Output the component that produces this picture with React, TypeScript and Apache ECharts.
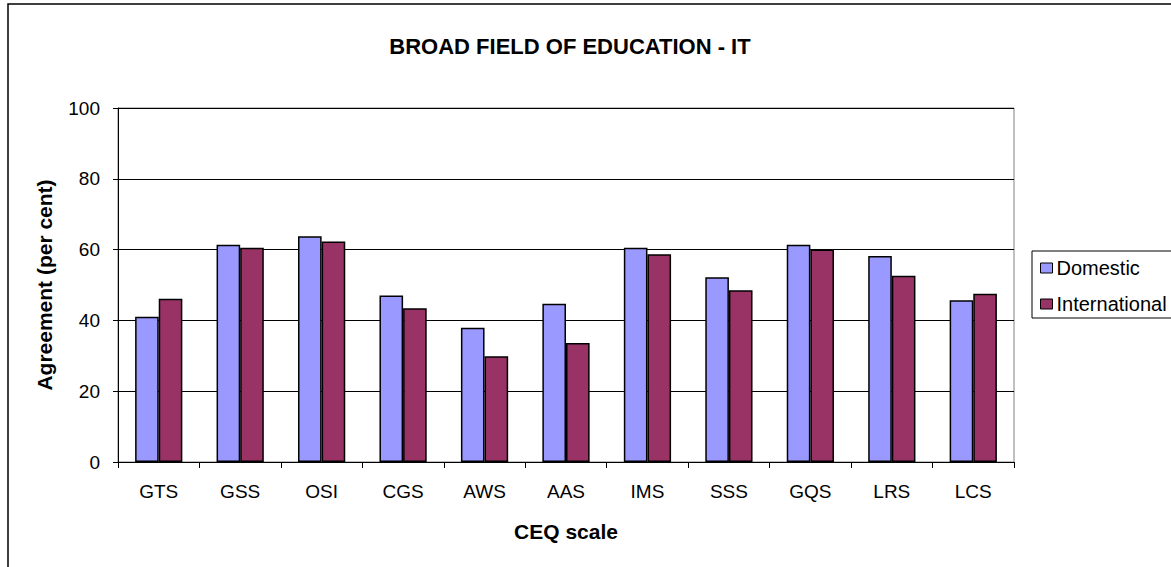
import React, { useEffect, useRef } from "react";
import * as echarts from "echarts";

const categories = ["GTS", "GSS", "OSI", "CGS", "AWS", "AAS", "IMS", "SSS", "GQS", "LRS", "LCS"];
const domestic = [41.0, 61.4, 63.8, 47.0, 37.9, 44.7, 60.5, 52.2, 61.4, 58.2, 45.7];
const international = [46.1, 60.5, 62.3, 43.4, 29.9, 33.6, 58.7, 48.5, 60.0, 52.6, 47.5];
const yTicks = { min: 0, max: 100, interval: 20 };

const FONT = "'Liberation Sans', Arial, sans-serif";

export default function App() {
  const ref = useRef<HTMLDivElement>(null);
  useEffect(() => {
    if (!ref.current) return;
    const chart = echarts.init(ref.current, undefined, { renderer: "svg" });
    chart.setOption({
      animation: false,
      backgroundColor: "#ffffff",
      textStyle: { fontFamily: FONT },
      title: {
        text: "BROAD FIELD OF EDUCATION - IT",
        left: 565,
        textAlign: "center",
        top: 30,
        textStyle: { fontFamily: FONT, fontSize: 22, fontWeight: "bold", color: "#000" },
      },
      graphic: [
        {
          type: "rect",
          shape: { x: 8, y: 4, width: 1200, height: 600 },
          style: { fill: "none", stroke: "#000", lineWidth: 1.5 },
          silent: true,
        },
      ],
      legend: {
        orient: "vertical",
        left: 1032,
        top: 251,
        padding: [7, 40, 4, 8],
        itemWidth: 12,
        itemHeight: 10,
        itemGap: 16,
        borderColor: "#000",
        borderWidth: 1,
        icon: "rect",
        itemStyle: { borderColor: "#000", borderWidth: 1 },
        textStyle: { fontFamily: FONT, fontSize: 20, color: "#000", padding: [0, 0, 0, -1] },
        data: ["Domestic", "International"],
      },
      grid: {
        left: 118,
        top: 108,
        width: 896,
        height: 354,
        show: true,
        borderColor: "#808080",
        borderWidth: 1,
        backgroundColor: "transparent",
      },
      xAxis: {
        type: "category",
        data: categories,
        name: "CEQ scale",
        nameLocation: "middle",
        nameGap: 59,
        nameTextStyle: { fontFamily: FONT, fontSize: 21, fontWeight: "bold", color: "#000" },
        axisLine: { lineStyle: { color: "#000", width: 1 } },
        axisTick: { show: true, length: 6, alignWithLabel: false, lineStyle: { color: "#000" } },
        axisLabel: { fontFamily: FONT, fontSize: 19, color: "#000", margin: 20 },
      },
      yAxis: {
        type: "value",
        min: yTicks.min,
        max: yTicks.max,
        interval: yTicks.interval,
        name: "Agreement (per cent)",
        nameLocation: "middle",
        nameGap: 63,
        nameTextStyle: { fontFamily: FONT, fontSize: 21, fontWeight: "bold", color: "#000" },
        axisLine: { show: true, lineStyle: { color: "#000", width: 1 } },
        axisTick: { show: true, length: 5, lineStyle: { color: "#000" } },
        axisLabel: { fontFamily: FONT, fontSize: 19, color: "#000", margin: 18 },
        splitLine: { show: true, lineStyle: { color: "#000", width: 1 } },
      },
      series: [
        {
          name: "Domestic",
          type: "bar",
          data: domestic,
          barGap: "0%",
          barCategoryGap: "42%",
          itemStyle: { color: "#9999FF", borderColor: "#000", borderWidth: 1.5 },
        },
        {
          name: "International",
          type: "bar",
          data: international,
          barGap: "0%",
          barCategoryGap: "42%",
          itemStyle: { color: "#993366", borderColor: "#000", borderWidth: 1.5 },
        },
      ],
    });
    return () => chart.dispose();
  }, []);
  return (
    <div
      ref={ref}
      style={{ position: "fixed", left: 0, top: 0, width: 1171, height: 567 }}
    />
  );
}
